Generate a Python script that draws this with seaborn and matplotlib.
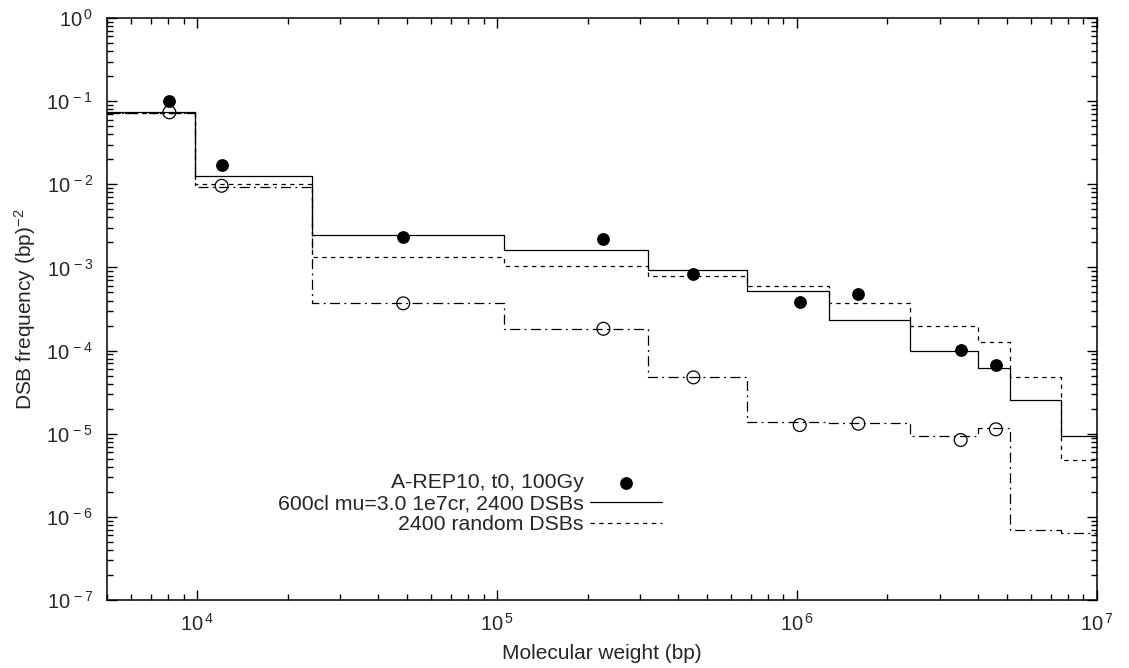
import numpy as np
import pandas as pd
import matplotlib
matplotlib.use("Agg")
import matplotlib.pyplot as plt
import seaborn as sns
from matplotlib.ticker import LogLocator, FuncFormatter, NullFormatter

# Bin edges of the simulated size distributions (bp)
bin_edges = [5.0e3, 9.8e3, 2.42e4, 1.05e5, 3.19e5, 6.79e5, 1.28e6, 2.37e6,
             4.02e6, 5.14e6, 7.57e6, 1.0e7]

# Simulated DSB frequency per bin
sim_cluster = [0.0746, 0.01247, 0.00245, 0.0016, 0.00094, 0.000525, 0.000231,
               9.88e-5, 6.1e-5, 2.57e-5, 9.46e-6]
sim_random = [0.0714, 0.0101, 0.00133, 0.00105, 0.00078, 0.000604, 0.00037,
              0.000197, 0.000128, 4.85e-5, 4.79e-6]
sim_control = [0.0714, 0.0094, 0.00037, 0.000182, 4.76e-5, 1.37e-5, 1.35e-5,
               9.38e-6, 1.16e-5, 6.95e-7, 6.45e-7]

# Measured fractions
meas_mw = [8070, 12050, 48600, 226000, 451000, 1.02e6, 1.6e6, 3.51e6, 4.6e6]
meas_irradiated = [0.1, 0.0172, 0.0023, 0.00218, 0.000833, 0.00038, 0.000474,
                   1.03e-4, 6.64e-5]
meas_control = [0.0734, 0.0096, 0.00037, 0.000183, 4.76e-5, 1.27e-5, 1.32e-5,
                8.4e-6, 1.13e-5]

label_meas = "A-REP10, t0, 100Gy"
label_cluster = "600cl mu=3.0 1e7cr, 2400 DSBs"
label_random = "2400 random DSBs"

sns.set_theme(style="ticks")
plt.rcParams["font.family"] = ["Liberation Sans", "DejaVu Sans"]
plt.rcParams["mathtext.fontset"] = "custom"
plt.rcParams["mathtext.rm"] = "Liberation Sans"
plt.rcParams["mathtext.it"] = "Liberation Sans"
plt.rcParams["mathtext.default"] = "regular"
plt.rcParams["axes.unicode_minus"] = False
plt.rcParams["font.size"] = 14

fig = plt.figure(figsize=(11.29, 6.68), dpi=100)
ax = fig.add_axes([0.0948, 0.1018, 0.8769, 0.8712])


def steps(levels):
    return pd.DataFrame({"mw": bin_edges, "f": list(levels) + [levels[-1]]})


lw = 0.9
sns.lineplot(data=steps(sim_cluster), x="mw", y="f", ax=ax, estimator=None,
             drawstyle="steps-post", color="black", lw=lw, label=label_cluster,
             zorder=2)
sns.lineplot(data=steps(sim_random), x="mw", y="f", ax=ax, estimator=None,
             drawstyle="steps-post", color="black", lw=lw, label=label_random,
             dashes=False, linestyle=(0, (3.5, 3.5)), zorder=2)
sns.lineplot(data=steps(sim_control), x="mw", y="f", ax=ax, estimator=None,
             drawstyle="steps-post", color="black", lw=lw,
             linestyle=(0, (8, 3.5, 1.5, 3.5)), zorder=2)

sns.scatterplot(x=meas_mw, y=meas_irradiated, ax=ax, marker="o", s=85,
                color="black", edgecolor="black", linewidth=0,
                label=label_meas, zorder=3)
sns.scatterplot(x=meas_mw, y=meas_control, ax=ax, marker="o", s=85,
                facecolor="none", edgecolor="black", linewidth=0.9, zorder=3)

ax.set_xscale("log")
ax.set_yscale("log")
ax.set_xlim(5e3, 1e7)
ax.set_ylim(1e-7, 1e0)


def power_label(v, pos):
    e = int(round(np.log10(v)))
    return "10$^{\\,%d}$" % e


for axis in (ax.xaxis, ax.yaxis):
    axis.set_major_locator(LogLocator(base=10, numticks=20))
    axis.set_minor_locator(LogLocator(base=10, subs=np.arange(2, 10), numticks=20))
    axis.set_major_formatter(FuncFormatter(power_label))
    axis.set_minor_formatter(NullFormatter())

ax.tick_params(which="both", direction="in", top=True, right=True,
               color="black", width=1.0)
ax.tick_params(which="major", length=7, labelsize=14.5)
ax.tick_params(axis="x", which="major", pad=9)
ax.tick_params(axis="y", which="major", pad=10)
ax.tick_params(which="minor", length=4)
for sp in ax.spines.values():
    sp.set_linewidth(1.1)
    sp.set_color("black")
    sp.set_visible(True)

ax.set_xlabel("Molecular weight (bp)", fontsize=15, labelpad=7)
ax.set_ylabel("DSB frequency (bp)$^{-2}$", fontsize=15, labelpad=6)

handles, labels = ax.get_legend_handles_labels()
order = [labels.index(label_meas), labels.index(label_cluster),
         labels.index(label_random)]
ax.legend([handles[i] for i in order], [labels[i] for i in order],
          loc="upper right", bbox_to_anchor=(0.5606, 0.218), frameon=False,
          markerfirst=False, fontsize=15.3, handlelength=3.4,
          handletextpad=0.3, labelspacing=0.1, borderpad=0,
          borderaxespad=0)

fig.savefig("out.png", dpi=100)
